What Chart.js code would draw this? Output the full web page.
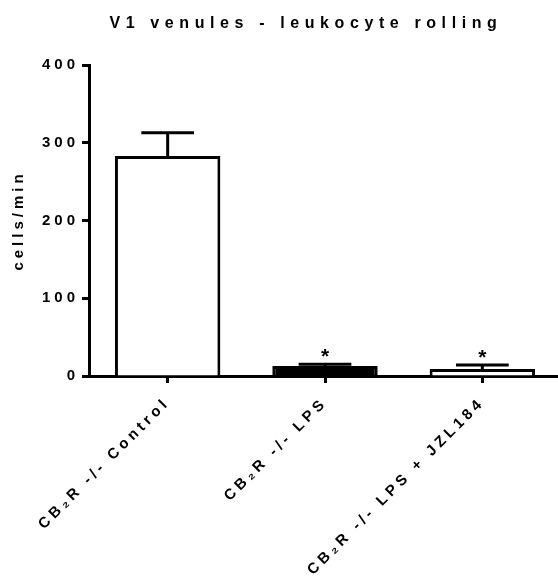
<!DOCTYPE html>
<html>
<head>
<meta charset="utf-8">
<script src="https://cdn.jsdelivr.net/npm/chart.js@4/dist/chart.umd.min.js"></script>
<style>
  html, body { margin: 0; padding: 0; background: #fff; overflow: hidden; }
  #wrap { width: 561px; height: 579px; }
</style>
</head>
<body>
<div id="wrap"><canvas id="c" width="561" height="579"></canvas></div>
<script>
// ---- data ----
const chartTitle = 'V1 venules - leukocyte rolling';
const yAxisTitle = 'cells/min';
const categories = ['CB\u2082R -/- Control', 'CB\u2082R -/- LPS', 'CB\u2082R -/- LPS + JZL184'];
const meanValues = [283, 13, 9];
const semValues = [30, 2, 5];
const significance = ['', '*', '*'];
const yTicks = [0, 100, 200, 300, 400];
const barFills = ['#ffffff', '#000000', '#ffffff'];

const FONT = "'Liberation Sans', Arial, sans-serif";
const SPACING = '4px';

function setSpacing(chart) { chart.ctx.letterSpacing = SPACING; }

const spacingPlugin = {
  id: 'spacing',
  beforeUpdate: setSpacing,
  beforeLayout: setSpacing,
  beforeDraw: setSpacing
};

const errorBarPlugin = {
  id: 'errorBars',
  afterDatasetsDraw(chart) {
    const ctx = chart.ctx;
    const meta = chart.getDatasetMeta(0);
    const yScale = chart.scales.y;
    ctx.save();
    ctx.letterSpacing = '0px';
    ctx.strokeStyle = '#000';
    ctx.fillStyle = '#000';
    ctx.lineWidth = 3;
    meta.data.forEach((bar, i) => {
      const top = yScale.getPixelForValue(meanValues[i] + semValues[i]);
      const half = bar.width * 0.25;
      ctx.beginPath();
      ctx.moveTo(bar.x, bar.y);
      ctx.lineTo(bar.x, top);
      ctx.moveTo(bar.x - half, top);
      ctx.lineTo(bar.x + half, top);
      ctx.stroke();
      if (significance[i]) {
        ctx.font = 'bold 21px ' + FONT;
        ctx.textAlign = 'center';
        ctx.textBaseline = 'alphabetic';
        ctx.fillText(significance[i], bar.x, top - 1);
      }
    });
    ctx.restore();
  }
};

const titlePlugin = {
  id: 'customTitle',
  afterDraw(chart) {
    const ctx = chart.ctx;
    ctx.save();
    ctx.letterSpacing = '5.6px';
    ctx.font = 'bold 16px ' + FONT;
    ctx.fillStyle = '#000';
    ctx.textAlign = 'center';
    ctx.textBaseline = 'alphabetic';
    ctx.fillText(chartTitle, 306, 28);
    ctx.restore();
  }
};

new Chart(document.getElementById('c'), {
  type: 'bar',
  data: {
    labels: categories,
    datasets: [{
      data: meanValues,
      backgroundColor: barFills,
      borderColor: '#000',
      borderWidth: 3,
      borderSkipped: 'start',
      barPercentage: 0.67,
      categoryPercentage: 1.0
    }]
  },
  options: {
    responsive: false,
    animation: false,
    devicePixelRatio: 1,
    layout: { padding: { left: 10, top: 65, right: 0, bottom: 0 } },
    plugins: {
      legend: { display: false },
      title: { display: false },
      tooltip: { enabled: false }
    },
    scales: {
      x: {
        z: 1,
        offset: true,
        grid: {
          offset: false,
          drawOnChartArea: false,
          drawTicks: true,
          tickLength: 7,
          tickWidth: 3,
          tickColor: '#000'
        },
        border: { display: true, color: '#000', width: 3 },
        ticks: {
          color: '#000',
          font: { family: FONT, size: 15, weight: 'bold' },
          minRotation: 45,
          maxRotation: 45,
          autoSkip: false,
          padding: 11
        },
        afterFit(scale) { scale.height = 203; }
      },
      y: {
        z: 1,
        min: 0,
        max: 400,
        afterBuildTicks(scale) { scale.ticks = yTicks.map(v => ({ value: v })); },
        grid: {
          drawOnChartArea: false,
          drawTicks: true,
          tickLength: 7,
          tickWidth: 3,
          tickColor: '#000'
        },
        border: { display: true, color: '#000', width: 3 },
        ticks: {
          color: '#000',
          font: { family: FONT, size: 15, weight: 'bold' },
          padding: 3
        },
        title: {
          display: true,
          text: yAxisTitle,
          color: '#000',
          font: { family: FONT, size: 15, weight: 'bold' },
          padding: { top: 0, bottom: 14 }
        },
        afterFit(scale) { scale.width = 79; }
      }
    }
  },
  plugins: [spacingPlugin, errorBarPlugin, titlePlugin]
});
</script>
</body>
</html>
